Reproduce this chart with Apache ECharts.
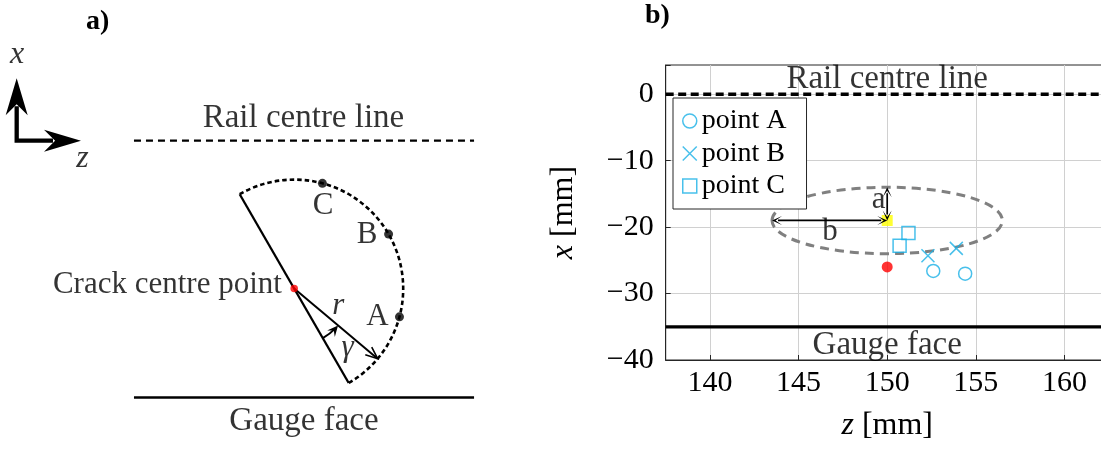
<!DOCTYPE html>
<html>
<head>
<meta charset="utf-8">
<title>Crack front points</title>
<script src="https://cdn.jsdelivr.net/npm/echarts@6.0.0/dist/echarts.min.js"></script>
<style>
html, body { margin: 0; padding: 0; background: #fff; }
#chart { width: 1101px; height: 452px; }
</style>
</head>
<body>
<div id="chart"></div>
<script>
// ---------- b) measured positions (z, x) in mm ----------
const pointA = [[152.6, -26.6], [154.4, -27.0]];
const pointB = [[152.3, -24.3], [153.9, -23.2]];
const pointC = [[151.2, -20.9], [150.7, -22.8]];
const crackCentre = [[150, -26]];
const ellipseCentre = [150, -19];
const semiAxisA = 5;      // along x
const semiAxisB = 6.5;    // along z
const railCentreLineX = 0;
const gaugeFaceX = -35;
const zRange = [137.5, 162.5];
const xRange = [-40, 4.4];
const zTickStep = 5;
const xTickStep = 10;

// ---------- a) schematic, lengths in crack radii, origin at crack centre ----------
const crackTipAngle = 120;                 // deg, upper crack tip seen from the centre
const gammaPoints = { A: 45, B: 90, C: 135 }; // deg, measured from the lower crack tip
const gammaR = 20;                         // deg, example radius r
const gammaArcRadius = 0.525;
const railLineY = 1.357;
const gaugeLineY = -1.0;
const boundarySpan = [-1.47, 1.65];
const triadOrigin = [-2.546, 1.357];
const triadXTip = [-2.546, 1.929];
const triadZTip = [-1.956, 1.357];

// ---------- layout ----------
const SERIF = "'Liberation Serif', 'DejaVu Serif', serif";
const CYAN = '#1ab0e6';
const INK = '#000';
const A_UNIT = 109, A_CX = 294.2, A_CY = 288.6, A_W = 500, A_H = 452;

const rad = d => d * Math.PI / 180;
const lowerTipAngle = crackTipAngle - 180;
const onFront = deg => [Math.cos(rad(deg)), Math.sin(rad(deg))];

function unit(p, q) {
  const dx = q[0] - p[0], dy = q[1] - p[1];
  const l = Math.hypot(dx, dy);
  return [dx / l, dy / l];
}
function back(p, d, len) { return [p[0] - d[0] * len, p[1] - d[1] * len]; }
function stealth(tip, d, len, halfW, notch) {
  const n = [-d[1], d[0]];
  const b = back(tip, d, len);
  return {
    type: 'polygon',
    shape: { points: [tip, [b[0] + halfW * n[0], b[1] + halfW * n[1]], back(tip, d, notch * len), [b[0] - halfW * n[0], b[1] - halfW * n[1]]] },
    style: { fill: INK, stroke: 'none' }
  };
}
function openHead(tip, d, len, halfW, lw) {
  const n = [-d[1], d[0]];
  const b = back(tip, d, len);
  return {
    type: 'polyline',
    shape: { points: [[b[0] + halfW * n[0], b[1] + halfW * n[1]], tip, [b[0] - halfW * n[0], b[1] - halfW * n[1]]] },
    style: { stroke: INK, fill: 'none', lineWidth: lw }
  };
}
function seg(p, q, style) {
  return { type: 'line', shape: { x1: p[0], y1: p[1], x2: q[0], y2: q[1] }, style: Object.assign({ stroke: INK, fill: 'none' }, style) };
}

function renderSchematic(params, api) {
  const c = api.coord([0, 0]);
  const R = api.size([1, 0])[0];
  const P = (deg, r) => [c[0] + r * R * Math.cos(rad(deg)), c[1] - r * R * Math.sin(rad(deg))];
  const kids = [];

  // coordinate triad
  const o = api.coord(triadOrigin), xt = api.coord(triadXTip), zt = api.coord(triadZTip);
  const dx = unit(o, xt), dz = unit(o, zt);
  kids.push({ type: 'polyline', shape: { points: [back(xt, dx, 28), o, back(zt, dz, 28)] },
    style: { stroke: INK, fill: 'none', lineWidth: 4.3, lineJoin: 'miter', lineCap: 'butt' } });
  kids.push(stealth(xt, dx, 37, 11, 0.7));
  kids.push(stealth(zt, dz, 37, 11, 0.7));

  // rail centre line and gauge face
  kids.push(seg(api.coord([boundarySpan[0], railLineY]), api.coord([boundarySpan[1], railLineY]), { lineWidth: 2.2, lineDash: [7, 5] }));
  kids.push(seg(api.coord([boundarySpan[0], gaugeLineY]), api.coord([boundarySpan[1], gaugeLineY]), { lineWidth: 2.5 }));

  // crack trace
  kids.push(seg(P(crackTipAngle, 1), P(lowerTipAngle, 1), { lineWidth: 2.3 }));

  // crack front
  kids.push({ type: 'arc', shape: { cx: c[0], cy: c[1], r: R, startAngle: -rad(crackTipAngle), endAngle: -rad(lowerTipAngle), clockwise: true },
    style: { stroke: INK, fill: 'none', lineWidth: 2.6, lineDash: [4.5, 3] } });

  // radius r
  const rTip = P(lowerTipAngle + gammaR, 1);
  kids.push(seg(c, rTip, { lineWidth: 2 }));
  kids.push(openHead(rTip, unit(c, rTip), 12, 5, 1.6));

  // angle gamma
  kids.push({ type: 'arc', shape: { cx: c[0], cy: c[1], r: gammaArcRadius * R, startAngle: -rad(lowerTipAngle), endAngle: -rad(lowerTipAngle + gammaR - 4), clockwise: false },
    style: { stroke: INK, fill: 'none', lineWidth: 2 } });
  const th = rad(lowerTipAngle + gammaR);
  kids.push(stealth(P(lowerTipAngle + gammaR, gammaArcRadius), [-Math.sin(th), -Math.cos(th)], 11, 5, 0.6));

  return { type: 'group', children: kids };
}

function renderEllipse(params, api) {
  const c = api.coord(ellipseCentre);
  return {
    type: 'ellipse',
    shape: { cx: c[0], cy: c[1], rx: api.size([semiAxisB, 0])[0], ry: api.size([0, semiAxisA])[1] },
    style: { fill: 'none', stroke: '#808080', lineWidth: 3, lineDash: [9, 6] }
  };
}

function renderDimensions(params, api) {
  const c = api.coord(ellipseCentre);
  const top = api.coord([ellipseCentre[0], ellipseCentre[1] + semiAxisA]);
  const left = api.coord([ellipseCentre[0] - semiAxisB, ellipseCentre[1]]);
  const kids = [];
  [top, left].forEach(end => {
    const d = unit(c, end);
    kids.push(seg(back(c, d, -6), back(end, d, 6), { lineWidth: 1.7 }));
    kids.push(stealth(end, d, 10, 4.5, 0.35));
    kids.push(stealth(c, [-d[0], -d[1]], 10, 4.5, 0.35));
  });
  return { type: 'group', children: kids };
}

const tickFmt = step => v => {
  if (Math.abs(v / step - Math.round(v / step)) > 1e-6) return '';
  return String(Math.round(v)).replace('-', '\u2212');
};

function textItem(pos, text, opts) {
  return { value: pos, label: Object.assign({ formatter: text }, opts || {}) };
}

const labelBase = {
  show: true, position: 'inside', align: 'center', verticalAlign: 'middle',
  fontFamily: SERIF, fontSize: 31, color: INK
};

const pointsOnFront = Object.keys(gammaPoints).map(k => onFront(lowerTipAngle + gammaPoints[k]));

const option = {
  animation: false,
  backgroundColor: '#fff',
  title: [
    { text: 'a)', left: 86, top: 8, padding: 0, textStyle: { fontFamily: SERIF, fontWeight: 'bold', fontSize: 28, lineHeight: 28, color: INK } },
    { text: 'b)', left: 645, top: 2, padding: 0, textStyle: { fontFamily: SERIF, fontWeight: 'bold', fontSize: 28, lineHeight: 28, color: INK } }
  ],
  legend: {
    show: true, orient: 'vertical', left: 673, top: 98,
    padding: [9, 20, 9, 9], itemGap: 4.5, itemWidth: 14, itemHeight: 14,
    backgroundColor: '#fff', borderColor: '#262626', borderWidth: 1, borderRadius: 0,
    selectedMode: false,
    textStyle: { fontFamily: SERIF, fontSize: 28, lineHeight: 28, color: INK },
    data: [
      { name: 'point A', icon: 'circle', itemStyle: { color: 'rgba(0,0,0,0)', borderColor: CYAN, borderWidth: 1.5 } },
      { name: 'point B', icon: 'path://M0,0L1,1M1,0L0,1', itemStyle: { color: 'rgba(0,0,0,0)', borderColor: CYAN, borderWidth: 1.5 } },
      { name: 'point C', icon: 'rect', itemStyle: { color: 'rgba(0,0,0,0)', borderColor: CYAN, borderWidth: 1.5 } }
    ]
  },
  grid: [
    { left: 0, top: 0, width: A_W, height: A_H, show: false, outerBoundsMode: 'none' },
    { left: 665.7, top: 65, width: 443, height: 295, show: true, borderColor: '#262626', borderWidth: 1,
      backgroundColor: 'rgba(0,0,0,0)', outerBoundsMode: 'none' }
  ],
  xAxis: [
    { gridIndex: 0, type: 'value', show: false, min: -A_CX / A_UNIT, max: (A_W - A_CX) / A_UNIT },
    {
      gridIndex: 1, type: 'value', min: zRange[0], max: zRange[1],
      splitNumber: 5, minInterval: zTickStep, maxInterval: zTickStep,
      axisLine: { show: true, onZero: false, lineStyle: { color: '#262626', width: 1 } },
      axisTick: { show: true, inside: true, length: 5, lineStyle: { color: '#262626' } },
      axisLabel: { fontFamily: SERIF, fontSize: 30, color: INK, margin: 8, formatter: tickFmt(zTickStep) },
      splitLine: { show: true, showMinLine: false, showMaxLine: false, lineStyle: { color: '#d0d0d0', width: 1 } },
      name: '{i|z} [mm]', nameLocation: 'middle', nameGap: 50,
      nameTextStyle: { fontFamily: SERIF, fontSize: 32, color: INK,
        rich: { i: { fontFamily: SERIF, fontSize: 32, fontStyle: 'italic', color: INK } } }
    }
  ],
  yAxis: [
    { gridIndex: 0, type: 'value', show: false, min: -(A_H - A_CY) / A_UNIT, max: A_CY / A_UNIT },
    {
      gridIndex: 1, type: 'value', min: xRange[0], max: xRange[1],
      splitNumber: 5, minInterval: xTickStep, maxInterval: xTickStep,
      axisLine: { show: true, onZero: false, lineStyle: { color: '#262626', width: 1 } },
      axisTick: { show: true, inside: true, length: 5, lineStyle: { color: '#262626' } },
      axisLabel: { fontFamily: SERIF, fontSize: 30, color: INK, margin: 12, formatter: tickFmt(xTickStep) },
      splitLine: { show: true, showMinLine: false, showMaxLine: false, lineStyle: { color: '#d0d0d0', width: 1 } },
      name: '{i|x} [mm]', nameLocation: 'middle', nameGap: 86,
      nameTextStyle: { fontFamily: SERIF, fontSize: 32, color: INK,
        rich: { i: { fontFamily: SERIF, fontSize: 32, fontStyle: 'italic', color: INK } } }
    }
  ],
  series: [
    // ----- a) schematic -----
    { type: 'custom', coordinateSystem: 'cartesian2d', xAxisIndex: 0, yAxisIndex: 0,
      data: [[0, 0]], renderItem: renderSchematic, silent: true, z: 2 },
    { type: 'scatter', xAxisIndex: 0, yAxisIndex: 0, data: pointsOnFront,
      symbol: 'circle', symbolSize: 9, itemStyle: { color: INK }, silent: true, z: 4 },
    { type: 'scatter', xAxisIndex: 0, yAxisIndex: 0, data: [[0, 0]],
      symbol: 'circle', symbolSize: 7.5, itemStyle: { color: '#ff0000' }, silent: true, z: 5 },
    { type: 'scatter', xAxisIndex: 0, yAxisIndex: 0, symbol: 'circle', symbolSize: 1,
      itemStyle: { color: 'rgba(0,0,0,0)' }, silent: true, z: 6, label: labelBase,
      data: [
        textItem([0.085, 1.558], 'Rail centre line', { fontSize: 33 }),
        textItem([0.09, -1.215], 'Gauge face', { fontSize: 33 }),
        textItem([-0.113, 0.033], 'Crack centre point', { align: 'right' }),
        textItem([0.266, 0.762], 'C'),
        textItem([0.668, 0.496], 'B'),
        textItem([0.764, -0.261], 'A'),
        textItem([0.404, -0.16], 'r', { fontStyle: 'italic' }),
        textItem([0.489, -0.542], 'γ', { fontStyle: 'italic' }),
        textItem([-2.543, 2.15], 'x', { fontStyle: 'italic', fontSize: 32 }),
        textItem([-1.942, 1.19], 'z', { fontStyle: 'italic', fontSize: 32 })
      ] },

    // ----- b) measured points -----
    { type: 'line', xAxisIndex: 1, yAxisIndex: 1, symbol: 'none', silent: true, z: 3,
      data: [[zRange[0], railCentreLineX], [zRange[1], railCentreLineX]],
      lineStyle: { color: INK, width: 3.5, type: [8, 4.5] } },
    { type: 'line', xAxisIndex: 1, yAxisIndex: 1, symbol: 'none', silent: true, z: 3,
      data: [[zRange[0], gaugeFaceX], [zRange[1], gaugeFaceX]],
      lineStyle: { color: INK, width: 3.2 } },
    { type: 'custom', coordinateSystem: 'cartesian2d', xAxisIndex: 1, yAxisIndex: 1,
      data: [ellipseCentre], renderItem: renderEllipse, silent: true, z: 3 },
    { type: 'scatter', xAxisIndex: 1, yAxisIndex: 1, data: [ellipseCentre],
      symbol: 'rect', symbolSize: 11, itemStyle: { color: '#ffff00' }, silent: true, z: 4 },
    { type: 'custom', coordinateSystem: 'cartesian2d', xAxisIndex: 1, yAxisIndex: 1,
      data: [ellipseCentre], renderItem: renderDimensions, silent: true, z: 5 },
    { type: 'scatter', xAxisIndex: 1, yAxisIndex: 1, data: crackCentre,
      symbol: 'circle', symbolSize: 11, itemStyle: { color: '#ff0000' }, silent: true, z: 5 },
    { name: 'point A', type: 'scatter', xAxisIndex: 1, yAxisIndex: 1, data: pointA,
      symbol: 'circle', symbolSize: 13, silent: true, z: 6,
      itemStyle: { color: 'rgba(0,0,0,0)', borderColor: CYAN, borderWidth: 1.5 } },
    { name: 'point B', type: 'scatter', xAxisIndex: 1, yAxisIndex: 1, data: pointB,
      symbol: 'path://M0,0L1,1M1,0L0,1', symbolSize: 13, silent: true, z: 6,
      itemStyle: { color: 'rgba(0,0,0,0)', borderColor: CYAN, borderWidth: 1.5 } },
    { name: 'point C', type: 'scatter', xAxisIndex: 1, yAxisIndex: 1, data: pointC,
      symbol: 'rect', symbolSize: 13, silent: true, z: 6,
      itemStyle: { color: 'rgba(0,0,0,0)', borderColor: CYAN, borderWidth: 1.5 } },
    { type: 'scatter', xAxisIndex: 1, yAxisIndex: 1, symbol: 'circle', symbolSize: 1, clip: false,
      itemStyle: { color: 'rgba(0,0,0,0)' }, silent: true, z: 7, label: labelBase,
      data: [
        textItem([150, 2.26], 'Rail centre line', { fontSize: 33 }),
        textItem([150, -37.74], 'Gauge face', { fontSize: 33 }),
        textItem([149.52, -15.94], 'a'),
        textItem([146.77, -20.68], 'b')
      ] }
  ]
};

const chart = echarts.init(document.getElementById('chart'));
chart.setOption(option);
</script>
</body>
</html>
